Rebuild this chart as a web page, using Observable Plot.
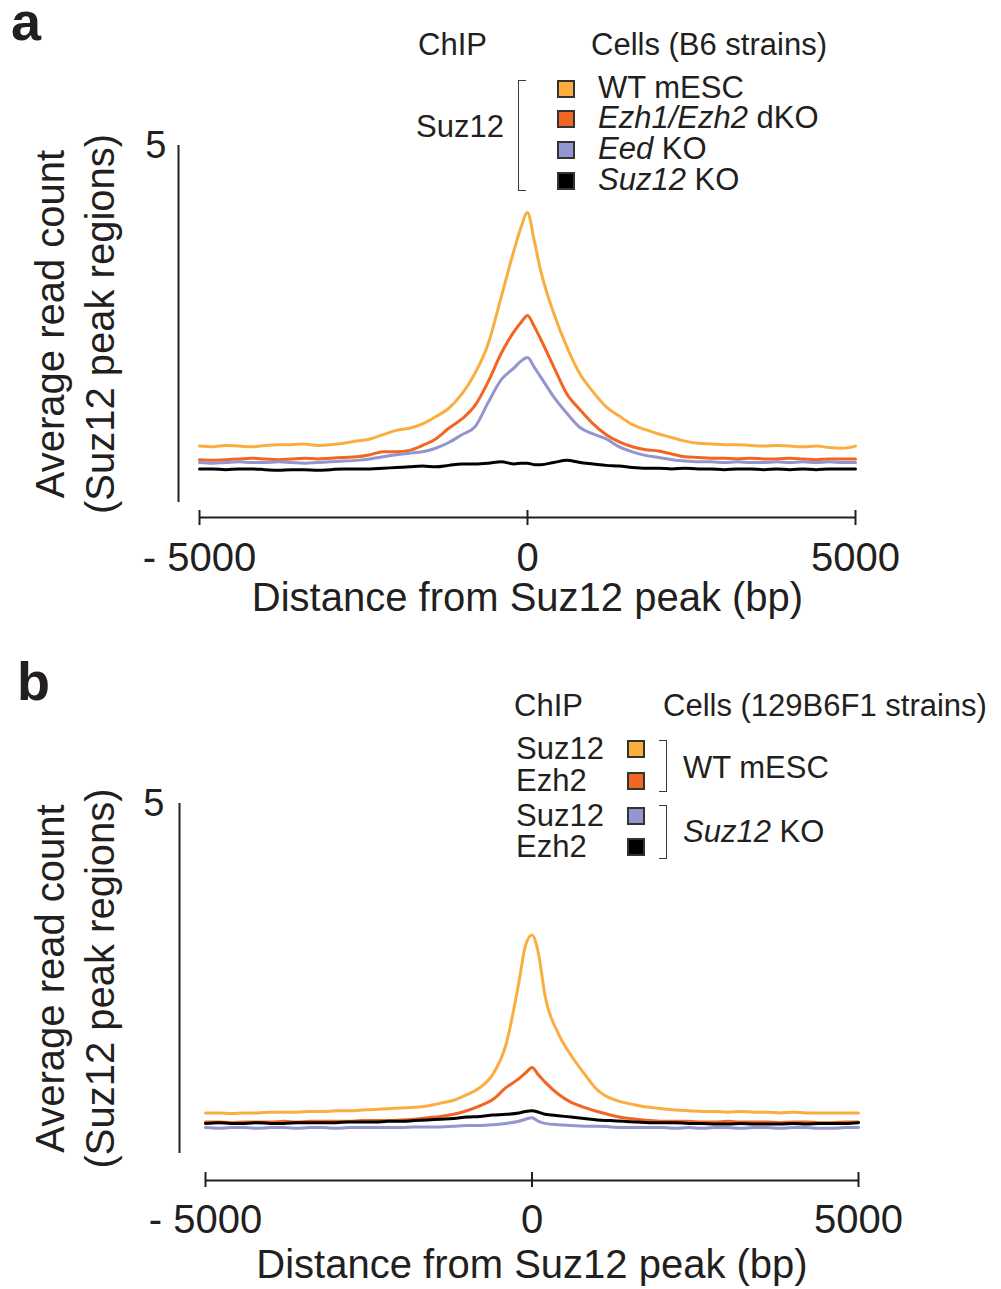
<!DOCTYPE html>
<html><head><meta charset="utf-8">
<script src="https://cdn.jsdelivr.net/npm/d3@7"></script>
<script src="https://cdn.jsdelivr.net/npm/@observablehq/plot@0.6"></script>
<style>
body{margin:0;background:#fff;}
#page{position:relative;width:1001px;height:1289px;font-family:"Liberation Sans",Arial,Helvetica,sans-serif;color:#231f20;overflow:hidden;background:#fff}
.t{position:absolute;white-space:nowrap;line-height:0.8;transform:translateY(-50%);font-size:31px;z-index:2}
.sw{position:absolute;box-sizing:border-box;border:2px solid #333;z-index:2}
.br{position:absolute;box-sizing:border-box;border:0 solid #3a3a3a;z-index:2}
.panel{position:absolute;left:0;z-index:1}
.lab{position:absolute;font-weight:bold;font-size:54px;line-height:0.8;z-index:2}
</style></head><body><div id="page"></div>
<script>
// ---- shared x positions (bp from Suz12 peak) ----
const positions = [-5000,-4800,-4600,-4400,-4200,-4000,-3800,-3600,-3400,-3200,-3000,-2800,-2600,-2400,-2200,-2000,-1800,-1600,-1400,-1200,-1000,-800,-600,-400,-200,-100,0,100,200,400,600,800,1000,1200,1400,1600,1800,2000,2200,2400,2600,2800,3000,3200,3400,3600,3800,4000,4200,4400,4600,4800,5000];
const xTicks = [-5000, 0, 5000];
const xTickLabels = ["- 5000", "0", "5000"];
const yTicks = [5];
const yTickLabels = ["5"];
const xTitle = "Distance from Suz12 peak (bp)";
const yTitle = "Average read count\n(Suz12 peak regions)";

// ---- panel a: Suz12 ChIP, B6 strains ----
const aKeys = ["WT mESC", "Ezh1/Ezh2 dKO", "Eed KO", "Suz12 KO"];
const aWT = [0.79,0.78,0.80,0.79,0.78,0.80,0.81,0.81,0.82,0.80,0.81,0.83,0.86,0.89,0.95,1.01,1.04,1.10,1.20,1.32,1.52,1.81,2.22,2.88,3.55,3.85,4.06,3.68,3.25,2.65,2.18,1.80,1.55,1.34,1.21,1.09,1.02,0.96,0.91,0.86,0.83,0.82,0.81,0.81,0.80,0.79,0.80,0.79,0.78,0.79,0.77,0.76,0.79];
const aDKO = [0.60,0.59,0.60,0.61,0.62,0.61,0.60,0.61,0.62,0.61,0.62,0.63,0.64,0.67,0.71,0.71,0.73,0.80,0.89,1.04,1.17,1.36,1.69,2.09,2.40,2.52,2.62,2.47,2.29,1.90,1.52,1.30,1.10,0.95,0.85,0.78,0.74,0.72,0.68,0.64,0.63,0.62,0.62,0.61,0.62,0.61,0.61,0.62,0.61,0.60,0.61,0.61,0.61];
const aEed = [0.56,0.55,0.56,0.57,0.56,0.56,0.57,0.56,0.55,0.56,0.57,0.58,0.59,0.61,0.64,0.67,0.69,0.71,0.76,0.84,0.95,1.06,1.40,1.72,1.89,1.98,2.03,1.90,1.76,1.48,1.25,1.05,0.96,0.89,0.78,0.71,0.66,0.63,0.60,0.58,0.57,0.57,0.56,0.57,0.56,0.56,0.57,0.56,0.57,0.56,0.57,0.56,0.56];
const aSuzKO = [0.47,0.47,0.46,0.47,0.47,0.46,0.45,0.46,0.46,0.45,0.46,0.47,0.47,0.47,0.48,0.49,0.50,0.51,0.50,0.52,0.54,0.54,0.55,0.57,0.54,0.55,0.55,0.53,0.53,0.56,0.59,0.56,0.54,0.52,0.51,0.49,0.48,0.48,0.47,0.48,0.47,0.47,0.46,0.47,0.47,0.46,0.47,0.46,0.47,0.46,0.47,0.47,0.47];

// ---- panel b: 129B6F1 strains ----
const bKeys = ["Suz12 / WT mESC", "Ezh2 / WT mESC", "Suz12 / Suz12 KO", "Ezh2 / Suz12 KO"];
const bSuzWT = [0.58,0.58,0.57,0.58,0.58,0.59,0.59,0.59,0.60,0.60,0.61,0.61,0.62,0.63,0.64,0.65,0.66,0.68,0.72,0.76,0.84,0.94,1.13,1.55,2.45,2.97,3.12,2.85,2.25,1.72,1.40,1.14,0.91,0.79,0.73,0.69,0.66,0.64,0.62,0.61,0.60,0.60,0.59,0.60,0.59,0.59,0.58,0.59,0.58,0.58,0.58,0.58,0.58];
const bEzhWT = [0.45,0.45,0.44,0.45,0.45,0.45,0.46,0.45,0.46,0.46,0.46,0.46,0.47,0.47,0.47,0.48,0.49,0.51,0.53,0.56,0.61,0.68,0.77,0.94,1.07,1.15,1.23,1.12,1.02,0.85,0.73,0.66,0.60,0.55,0.51,0.49,0.47,0.46,0.46,0.46,0.45,0.45,0.46,0.45,0.45,0.45,0.44,0.45,0.45,0.44,0.44,0.45,0.45];
const bSuzKO = [0.37,0.36,0.37,0.37,0.36,0.37,0.37,0.36,0.37,0.37,0.36,0.37,0.37,0.37,0.37,0.37,0.38,0.38,0.38,0.39,0.40,0.40,0.41,0.43,0.46,0.49,0.51,0.46,0.43,0.41,0.40,0.39,0.39,0.38,0.37,0.37,0.37,0.37,0.36,0.37,0.36,0.37,0.37,0.36,0.37,0.37,0.36,0.37,0.37,0.36,0.36,0.37,0.37];
const bEzhKO = [0.43,0.44,0.43,0.43,0.44,0.43,0.43,0.44,0.44,0.44,0.44,0.45,0.45,0.45,0.46,0.46,0.47,0.48,0.49,0.50,0.52,0.53,0.55,0.56,0.58,0.60,0.61,0.59,0.56,0.54,0.52,0.50,0.48,0.47,0.46,0.45,0.44,0.44,0.44,0.43,0.43,0.42,0.42,0.43,0.42,0.42,0.42,0.43,0.42,0.43,0.43,0.43,0.44];

const seriesColors = ["#FBAE40", "#F26522", "#9396CE", "#000000"];

// legend texts
const aLegendHead = ["ChIP", "Cells (B6 strains)"];
const aLegendChip = "Suz12";
const aLegendLabels = [["", "WT mESC"], ["Ezh1/Ezh2", " dKO"], ["Eed", " KO"], ["Suz12", " KO"]];
const bLegendHead = ["ChIP", "Cells (129B6F1 strains)"];
const bLegendChip = ["Suz12", "Ezh2", "Suz12", "Ezh2"];
const bLegendCells = [["", "WT mESC"], ["Suz12", " KO"]];

const page = document.getElementById("page");
const FONT = '"Liberation Sans", Arial, Helvetica, sans-serif';

function panel(keys, values, g) {
  const data = [];
  keys.forEach((k, s) => positions.forEach((p, i) => data.push({x: p, y: values[s][i], key: k})));
  return Plot.plot({
    width: 1001, height: g.height,
    marginLeft: g.left, marginRight: 1001 - g.right,
    marginTop: g.top, marginBottom: g.height - g.bottom,
    x: {domain: [-5000, 5000]},
    y: {domain: [0, 5]},
    color: {domain: keys, range: seriesColors},
    style: {fontFamily: FONT, color: "#231f20", background: "transparent", overflow: "visible"},
    marks: [
      Plot.ruleX([-5000], {y1: 0, y2: 5, dx: g.yAxisDx, stroke: "#231f20", strokeWidth: 2}),
      Plot.ruleY([0], {x1: -5000, x2: 5000, dy: g.xLineDy, stroke: "#231f20", strokeWidth: 2}),
      Plot.axisY({ticks: yTicks, tickFormat: (d) => yTickLabels[yTicks.indexOf(d)], tickSize: 0, tickPadding: g.yPad, dx: g.yAxisDx, fontSize: 38, label: null}),
      Plot.axisX({ticks: xTicks, tickFormat: (d) => xTickLabels[xTicks.indexOf(d)], tickSize: 15, tickPadding: 17, dy: g.tickDy, fontSize: 40, label: null, strokeWidth: 2}),
      Plot.line(data, {x: "x", y: "y", z: "key", stroke: "key", strokeWidth: 3, curve: "monotone-x"}),
      Plot.text([yTitle], {frameAnchor: "left", textAnchor: "middle", lineAnchor: "middle", rotate: -90, dx: g.yTitleDx, fontSize: 40, lineHeight: 1.25}),
      Plot.text([xTitle], {frameAnchor: "bottom", lineAnchor: "middle", dy: g.xTitleDy, fontSize: 40})
    ]
  });
}

function place(el, top) {
  const d = document.createElement("div");
  d.className = "panel";
  d.style.top = top + "px";
  d.appendChild(el);
  page.appendChild(d);
}

place(panel(aKeys, [aWT, aDKO, aEed, aSuzKO], {height: 640, left: 199, right: 855, top: 145, bottom: 502, yAxisDx: -21, yPad: 12, xLineDy: 15, tickDy: 8, yTitleDx: -127, xTitleDy: 96}), 0);
place(panel(bKeys, [bSuzWT, bEzhWT, bSuzKO, bEzhKO], {height: 649, left: 205, right: 858, top: 163, bottom: 513, yAxisDx: -26, yPad: 15, xLineDy: 27, tickDy: 19, yTitleDx: -133, xTitleDy: 112}), 640);

function text(html, left, cy, extra) {
  const d = document.createElement("div");
  d.className = "t";
  d.style.left = left + "px";
  d.style.top = cy + "px";
  d.innerHTML = html;
  if (extra) Object.assign(d.style, extra);
  page.appendChild(d);
  return d;
}
function box(cls, left, top, w, h, style) {
  const d = document.createElement("div");
  d.className = cls;
  Object.assign(d.style, {left: left + "px", top: top + "px", width: w + "px", height: h + "px"}, style || {});
  page.appendChild(d);
}
function lab(s, left, top) {
  const d = document.createElement("div");
  d.className = "lab";
  d.style.left = left + "px"; d.style.top = top + "px";
  d.textContent = s;
  page.appendChild(d);
}

// panel labels
lab("a", 11, 0);
lab("b", 17, 660);

// legend a
text(aLegendHead[0], 418, 45);
text(aLegendHead[1], 591, 45);
text(aLegendChip, 416, 127);
box("br", 518, 80, 8, 111, {borderLeftWidth: "1.5px", borderTopWidth: "1.5px", borderBottomWidth: "1.5px"});
const aCy = [89, 119, 150, 181];
aLegendLabels.forEach((l, i) => {
  box("sw", 557, aCy[i] - 9, 18, 18, {background: seriesColors[i]});
  text((l[0] ? "<i>" + l[0] + "</i>" : "") + l[1], 598, aCy[i] - 1);
});

// legend b
text(bLegendHead[0], 514, 706);
text(bLegendHead[1], 663, 706);
const bCy = [749, 781, 816, 847];
bLegendChip.forEach((c, i) => {
  text(c, 516, bCy[i]);
  box("sw", 627, bCy[i] - 9, 18, 18, {background: seriesColors[i]});
});
box("br", 659, 740, 8, 52, {borderRightWidth: "1.5px", borderTopWidth: "1.5px", borderBottomWidth: "1.5px"});
box("br", 659, 805, 8, 54, {borderRightWidth: "1.5px", borderTopWidth: "1.5px", borderBottomWidth: "1.5px"});
bLegendCells.forEach((l, i) => {
  text((l[0] ? "<i>" + l[0] + "</i>" : "") + l[1], 683, i === 0 ? 768 : 832);
});
</script>
</body></html>
